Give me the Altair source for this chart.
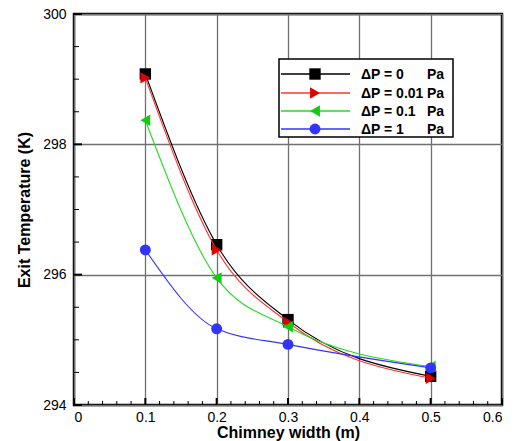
import altair as alt
import pandas as pd

widths = [0.1, 0.2, 0.3, 0.5]
t_dp0 = [299.08, 296.46, 295.31, 294.44]
t_dp001 = [299.02, 296.38, 295.27, 294.41]
t_dp01 = [298.37, 295.95, 295.20, 294.59]
t_dp1 = [296.38, 295.17, 294.93, 294.57]

series_names = ["ΔP = 0", "ΔP = 0.01", "ΔP = 0.1", "ΔP = 1"]
series_vals = [t_dp0, t_dp001, t_dp01, t_dp1]
line_colors = ["#000000", "#ff3333", "#22dd22", "#3333ff"]
mark_colors = ["#000000", "#dd0000", "#11cc11", "#3333ff"]
shapes = ["square", "triangle-right", "triangle-left", "circle"]

x_major = [0, 0.1, 0.2, 0.3, 0.4, 0.5, 0.6]
x_minor = [0.02, 0.04, 0.06, 0.08, 0.12, 0.14, 0.16, 0.18, 0.22, 0.24, 0.26, 0.28,
           0.32, 0.34, 0.36, 0.38, 0.42, 0.44, 0.46, 0.48, 0.52, 0.54, 0.56, 0.58]
y_major = [294, 296, 298, 300]
y_minor = [294.5, 295, 295.5, 296.5, 297, 297.5, 298.5, 299, 299.5]

W, H = 428, 391
FONT = "Liberation Sans"

xs = alt.Scale(domain=[0, 0.6], nice=False)
ys = alt.Scale(domain=[294, 300], nice=False, zero=False)

rows = []
for name, vals in zip(series_names, series_vals):
    for w, t in zip(widths, vals):
        rows.append({"w": w, "t": t, "s": name})
df = pd.DataFrame(rows)

base_axes = alt.Chart(pd.DataFrame({"w": x_major})).mark_rule(opacity=0).encode(
    x=alt.X("w:Q", scale=xs, axis=alt.Axis(
        values=x_major, format="~g", title="Chimney width (m)", grid=True,
        gridColor="#707070", gridWidth=1.3, ticks=False, domain=False,
        labelFont=FONT, labelFontSize=14, labelColor="#000", labelPadding=5,
        titleFont=FONT, titleFontSize=16, titleFontWeight="bold", titleColor="#000",
        titlePadding=0)),
)
yaxis_layer = alt.Chart(pd.DataFrame({"t": y_major})).mark_rule(opacity=0).encode(
    y=alt.Y("t:Q", scale=ys, axis=alt.Axis(
        values=y_major, format="d", title="Exit Temperature (K)", grid=True,
        gridColor="#707070", gridWidth=1.3, ticks=False, domain=False,
        labelFont=FONT, labelFontSize=14, labelColor="#000", labelPadding=8,
        titleFont=FONT, titleFontSize=16, titleFontWeight="bold", titleColor="#000",
        titlePadding=10)),
)

xmaj_ticks = alt.Chart(pd.DataFrame({"w": x_major})).mark_rule(color="#000", strokeWidth=2).encode(
    x=alt.X("w:Q", scale=xs), y=alt.value(H), y2=alt.value(H - 7))
xmin_ticks = alt.Chart(pd.DataFrame({"w": x_minor})).mark_rule(color="#000", strokeWidth=1).encode(
    x=alt.X("w:Q", scale=xs), y=alt.value(H), y2=alt.value(H - 4))
ymaj_ticks = alt.Chart(pd.DataFrame({"t": y_major})).mark_rule(color="#000", strokeWidth=2).encode(
    y=alt.Y("t:Q", scale=ys), x=alt.value(0), x2=alt.value(8))
ymin_ticks = alt.Chart(pd.DataFrame({"t": y_minor})).mark_rule(color="#000", strokeWidth=1).encode(
    y=alt.Y("t:Q", scale=ys), x=alt.value(0), x2=alt.value(5))

layers = [base_axes, yaxis_layer, xmaj_ticks, xmin_ticks, ymaj_ticks, ymin_ticks]

for name, lc, mc, sh in zip(series_names, line_colors, mark_colors, shapes):
    sub = df[df.s == name]
    line = alt.Chart(sub).mark_line(color=lc, strokeWidth=1.1, interpolate="monotone", clip=True).encode(
        x=alt.X("w:Q", scale=xs), y=alt.Y("t:Q", scale=ys))
    pts = alt.Chart(sub).mark_point(shape=sh, filled=True, color=mc, opacity=1,
                                    size=130 if sh != "circle" else 120).encode(
        x=alt.X("w:Q", scale=xs), y=alt.Y("t:Q", scale=ys))
    layers += [line, pts]

# legend box
lx0, lx1, ly0, ly1 = 205, 379, 45, 123
layers.append(alt.Chart(pd.DataFrame({"a": [0]})).mark_rect(fill="white", stroke="#000", strokeWidth=1.5).encode(
    x=alt.value(lx0), x2=alt.value(lx1), y=alt.value(ly0), y2=alt.value(ly1)))
row_y = [60, 79, 97, 115]
for name, lc, mc, sh, ry in zip(series_names, line_colors, mark_colors, shapes, row_y):
    d = pd.DataFrame({"label": [name], "unit": ["Pa"]})
    layers.append(alt.Chart(d).mark_rule(color=lc, strokeWidth=1.3).encode(
        x=alt.value(207), x2=alt.value(276), y=alt.value(ry)))
    layers.append(alt.Chart(d).mark_point(shape=sh, filled=True, color=mc, opacity=1,
                                          size=130 if sh != "circle" else 120).encode(
        x=alt.value(241), y=alt.value(ry)))
    layers.append(alt.Chart(d).mark_text(align="left", baseline="middle", font=FONT, fontSize=14,
                                         fontWeight="bold", color="#000").encode(
        text="label:N", x=alt.value(287), y=alt.value(ry + 1)))
    layers.append(alt.Chart(d).mark_text(align="left", baseline="middle", font=FONT, fontSize=14,
                                         fontWeight="bold", color="#000").encode(
        text="unit:N", x=alt.value(353), y=alt.value(ry + 1)))

chart = alt.layer(*layers).properties(
    width=W, height=H,
    autosize=alt.AutoSizeParams(type="none"),
    padding={"left": 74, "top": 14, "right": 12, "bottom": 36},
    background="white",
).configure_view(stroke="#000", strokeWidth=2.5)

chart.save("out.html", embed_options={"renderer": "svg", "actions": False})
